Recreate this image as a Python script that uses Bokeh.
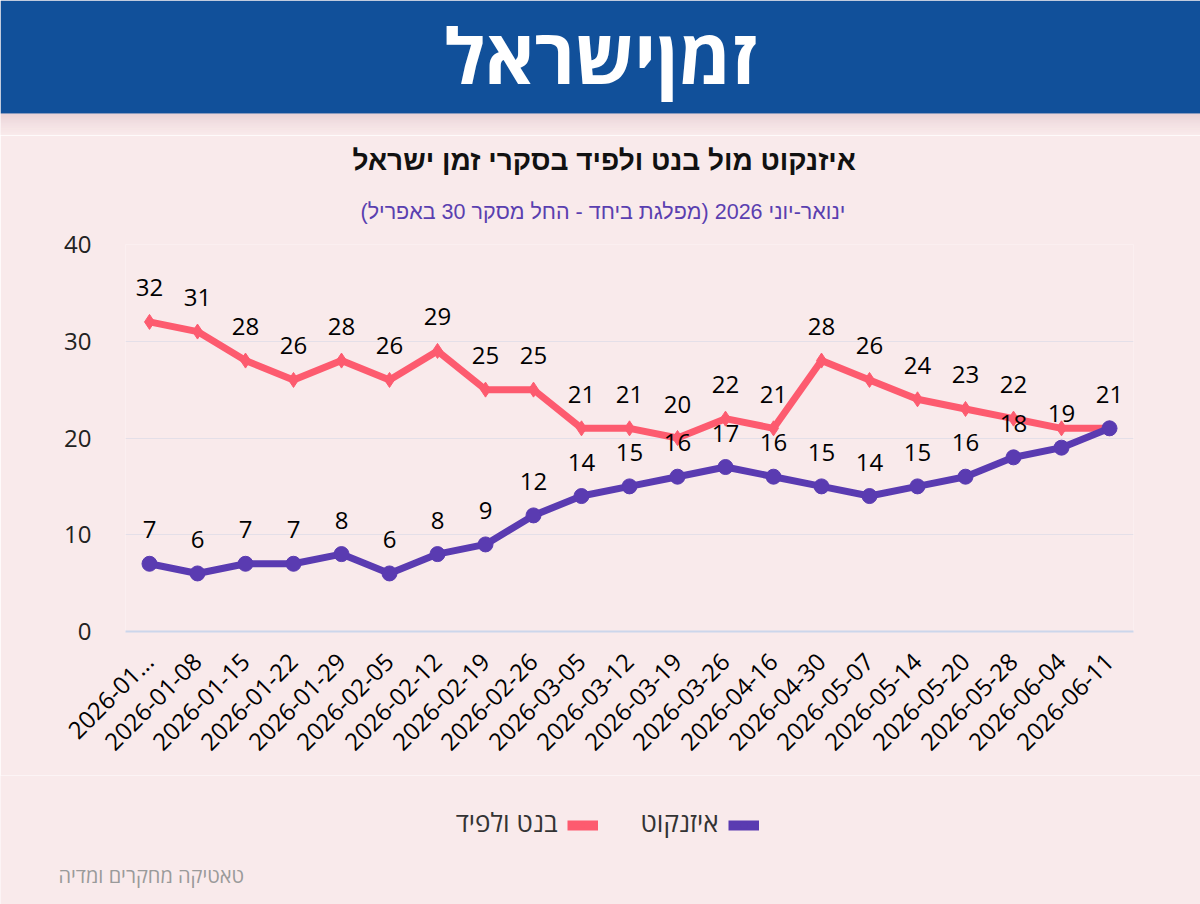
import math
from bokeh.plotting import figure
from bokeh.models import (FactorRange, Range1d, ColumnDataSource, Legend, LegendItem,
                          Title, Label)
from bokeh.embed import file_html
from bokeh.resources import INLINE
from bokeh.core.properties import value

# ---------------- data ----------------
dates = ["2026-01...", "2026-01-08", "2026-01-15", "2026-01-22", "2026-01-29",
         "2026-02-05", "2026-02-12", "2026-02-19", "2026-02-26", "2026-03-05",
         "2026-03-12", "2026-03-19", "2026-03-26", "2026-04-16", "2026-04-30",
         "2026-05-07", "2026-05-14", "2026-05-20", "2026-05-28", "2026-06-04",
         "2026-06-11"]
bennett_lapid = [32, 31, 28, 26, 28, 26, 29, 25, 25, 21, 21, 20, 22, 21, 28, 26, 24, 23, 22, 21, 21]
eisenkot = [7, 6, 7, 7, 8, 6, 8, 9, 12, 14, 15, 16, 17, 16, 15, 14, 15, 16, 18, 19, 21]
hidden_bl_labels = [19]
hidden_ei_labels = [20]
y_ticks = [0, 10, 20, 30, 40]

name_bl = "בנט ולפיד"
name_ei = "איזנקוט"
logo_text = "זמןישראל"
title_text = "איזנקוט מול בנט ולפיד בסקרי זמן ישראל"
subtitle_text = "ינואר-יוני 2026 (מפלגת ביחד - החל מסקר 30 באפריל)"
credit_text = "טאטיקה מחקרים ומדיה"

# ---------------- style ----------------
BG = "#f9eaeb"
BLUE = "#11509a"
RED = "#fd5b6f"
PURPLE = "#5a3bb1"
W = 1200
HDR_H = 135
MAIN_H = 640
FOOT_H = 904 - HDR_H - MAIN_H


def bare(fig):
    fig.grid.visible = False
    return fig


# ---------------- header (decorative, pixel coordinates) ----------------
hdr = bare(figure(width=W, height=HDR_H, x_range=Range1d(0, W), y_range=Range1d(HDR_H, 0),
                  x_axis_type=None, y_axis_type=None,
                  output_backend="svg", toolbar_location=None, min_border=0,
                  background_fill_color=BG, border_fill_color=BG, outline_line_color=None))
hdr.quad(left=0, right=W, top=0, bottom=113, fill_color=BLUE, line_color=None)
n = 11
hdr.quad(left=0, right=W,
         top=[113 + 2 * i for i in range(n)],
         bottom=[113 + 2 * (i + 1) for i in range(n)],
         fill_color="#b78c96",
         fill_alpha=[0.24 * (1 - i / n) ** 1.6 for i in range(n)], line_color=None)
hdr.add_layout(Label(x=600, y=54, text=logo_text, text_align="center",
                     text_baseline="middle", text_color="white",
                     text_font="Open Sans", text_font_style="bold",
                     text_font_size="76px"))

# ---------------- main chart ----------------
p = figure(width=W, height=MAIN_H, x_range=FactorRange(factors=dates),
           y_range=Range1d(0, 40), output_backend="svg", toolbar_location=None,
           min_border_left=125, min_border_right=67, min_border_top=244 - HDR_H,
           min_border_bottom=HDR_H + MAIN_H - 631,
           background_fill_color=BG, border_fill_color=BG, outline_line_color=None)

p.title = Title(text=title_text, align="left", offset=227,
                text_font="Liberation Sans", text_font_style="bold",
                text_font_size="28px", text_color="#111111", standoff=2)
p.add_layout(Title(text=subtitle_text, align="left", offset=235,
                   text_font="Liberation Sans", text_font_style="normal",
                   text_font_size="21.5px", text_color="#5a3fb0", standoff=42), "above")

src = ColumnDataSource(dict(
    date=dates, bl=bennett_lapid, ei=eisenkot,
    bl_lab=["" if i in hidden_bl_labels else str(v) for i, v in enumerate(bennett_lapid)],
    ei_lab=["" if i in hidden_ei_labels else str(v) for i, v in enumerate(eisenkot)],
))

p.line("date", "bl", source=src, line_color=RED, line_width=7, line_join="round")
p.scatter("date", "bl", source=src, marker="diamond", size=15,
          fill_color=RED, line_color=RED)
p.line("date", "ei", source=src, line_color=PURPLE, line_width=7, line_join="round")
p.scatter("date", "ei", source=src, marker="circle", size=15,
          fill_color=PURPLE, line_color=PURPLE)

for col, ycol in (("bl_lab", "bl"), ("ei_lab", "ei")):
    p.text("date", ycol, text=col, source=src, y_offset=-34,
           text_align="center", text_baseline="middle",
           text_font=value("Open Sans"), text_font_size="24px",
           text_color="#000000")

p.yaxis.ticker = y_ticks
p.yaxis.axis_line_color = None
p.yaxis.major_tick_line_color = None
p.yaxis.minor_tick_line_color = None
p.yaxis.major_label_text_font = "Open Sans"
p.yaxis.major_label_text_font_size = "24px"
p.yaxis.major_label_text_color = "#222222"
p.yaxis.major_label_standoff = 28

p.xaxis.axis_line_color = "#ccd6eb"
p.xaxis.axis_line_width = 2
p.xaxis.major_tick_line_color = None
p.xaxis.minor_tick_line_color = None
p.xaxis.major_label_orientation = math.pi / 4
p.xaxis.major_label_text_font = "Open Sans"
p.xaxis.major_label_text_font_size = "24px"
p.xaxis.major_label_text_color = "#000000"
p.xaxis.major_label_standoff = 20

p.xgrid.grid_line_color = None
p.ygrid.grid_line_color = "#e4dfe8"
p.ygrid.grid_line_width = 1

# ---------------- footer: legend keys (right of their names, RTL) + credit ----------------
ft = bare(figure(width=W, height=FOOT_H, x_range=Range1d(0, W), y_range=Range1d(FOOT_H, 0),
                 x_axis_type=None, y_axis_type=None,
                 output_backend="svg", toolbar_location=None, min_border=0,
                 background_fill_color=BG, border_fill_color=BG, outline_line_color=None))
# legend-key renderers: their single point lies outside the footer's visible range
key_src = ColumnDataSource(dict(x=[-500], y=[-500]))
keys = []
for color, marker in ((RED, "diamond"), (PURPLE, "circle")):
    kl = ft.line("x", "y", source=key_src, line_color=color, line_width=10)
    km = ft.scatter("x", "y", source=key_src, marker=marker, size=16,
                    fill_color=color, line_color=color)
    keys.append([kl, km])

legend_x = [567, 728]      # left edge of each key, px
name_right = [557, 718]    # right edge of each name, px
for rends, lx, nx, name in zip(keys, legend_x, name_right, [name_bl, name_ei]):
    ft.add_layout(Legend(items=[LegendItem(label=" ", renderers=rends)],
                         orientation="horizontal", location=(lx, 71),
                         background_fill_alpha=0, border_line_color=None,
                         label_text_font_size="4px", glyph_width=31, glyph_height=16,
                         label_standoff=0, margin=0, padding=0), "center")
    ft.add_layout(Label(x=nx, y=46, text=name, text_align="right",
                        text_baseline="middle", text_color="#333333",
                        text_font="Open Sans", text_font_size="26px"))

ft.add_layout(Label(x=58, y=100, text=credit_text, text_align="left",
                    text_baseline="middle", text_color="#9a9a9a",
                    text_font="Open Sans", text_font_size="20px"))

open("out.html", "w").write(file_html([hdr, p, ft], INLINE))
